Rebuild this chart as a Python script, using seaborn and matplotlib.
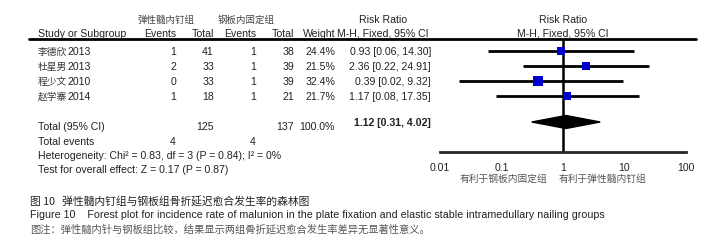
import numpy as np
import pandas as pd
import matplotlib
matplotlib.use('Agg')
import matplotlib.pyplot as plt
import seaborn as sns

# data
studies = ['李德欣2013', '杜星男2013', '程少文2010', '赵学寨2014']
events_esin = [1, 2, 0, 1]
total_esin = [41, 33, 33, 18]
events_plate = [1, 1, 1, 1]
total_plate = [38, 39, 39, 21]
weights = [24.4, 21.5, 32.4, 21.7]
rr = [0.93, 2.36, 0.39, 1.17]
ci_low = [0.06, 0.22, 0.02, 0.08]
ci_high = [14.30, 24.91, 9.32, 17.35]
pooled = [1.12, 0.31, 4.02]
tick_vals = [0.01, 0.1, 1, 10, 100]
tick_labels = ['0.01', '0.1', '1', '10', '100']

sns.set_style('white')
plt.rcParams['font.family'] = ['Liberation Sans', 'Noto Sans CJK SC', 'DejaVu Sans']
cjk = ['Noto Sans CJK SC', 'Liberation Sans']
fs = 7.6
txt = '#222222'

fig = plt.figure(figsize=(7.1, 2.51), dpi=100)
ax = fig.add_axes([0, 0, 1, 1])
ax.set_xlim(0, 710)
ax.set_ylim(251, 0)
ax.axis('off')

# headers
ax.text(166, 20, '弹性髓内钉组', ha='center', va='center', fontsize=6.8, family=cjk, color='#444444')
ax.text(246, 20, '钢板内固定组', ha='center', va='center', fontsize=6.8, family=cjk, color='#444444')
ax.text(383, 20, 'Risk Ratio', ha='center', va='center', fontsize=fs, color=txt)
ax.text(563, 20, 'Risk Ratio', ha='center', va='center', fontsize=fs, color=txt)
hy = 34
ax.text(38, hy, 'Study or Subgroup', ha='left', va='center', fontsize=fs, color=txt)
for x, s in [(176, 'Events'), (214, 'Total'), (256, 'Events'), (294, 'Total'), (335, 'Weight')]:
    ax.text(x, hy, s, ha='right', va='center', fontsize=fs, color=txt)
ax.text(383, hy, 'M-H, Fixed, 95% CI', ha='center', va='center', fontsize=fs, color=txt)
ax.text(563, hy, 'M-H, Fixed, 95% CI', ha='center', va='center', fontsize=fs, color=txt)
ax.plot([29, 696], [40, 40], color='black', lw=2)

row_y = [52 + 15 * i for i in range(len(studies))]
for i, y in enumerate(row_y):
    ax.text(38, y, studies[i][:-4], ha='left', va='center', fontsize=7, family=cjk, color='#3a3a3a')
    ax.text(38 + 29, y, studies[i][-4:], ha='left', va='center', fontsize=fs, color=txt)
    ax.text(176, y, str(events_esin[i]), ha='right', va='center', fontsize=fs, color=txt)
    ax.text(214, y, str(total_esin[i]), ha='right', va='center', fontsize=fs, color=txt)
    ax.text(256, y, str(events_plate[i]), ha='right', va='center', fontsize=fs, color=txt)
    ax.text(294, y, str(total_plate[i]), ha='right', va='center', fontsize=fs, color=txt)
    ax.text(335, y, f'{weights[i]:.1f}%', ha='right', va='center', fontsize=fs, color=txt)
    ax.text(431, y, f'{rr[i]:.2f} [{ci_low[i]:.2f}, {ci_high[i]:.2f}]', ha='right', va='center', fontsize=fs, color=txt)

ax.text(38, 127, 'Total (95% CI)', ha='left', va='center', fontsize=fs, color=txt)
ax.text(214, 127, str(sum(total_esin)), ha='right', va='center', fontsize=fs, color=txt)
ax.text(294, 127, str(sum(total_plate)), ha='right', va='center', fontsize=fs, color=txt)
ax.text(335, 127, '100.0%', ha='right', va='center', fontsize=fs, color=txt)
ax.text(431, 123, f'{pooled[0]:.2f} [{pooled[1]:.2f}, {pooled[2]:.2f}]', ha='right', va='center',
        fontsize=fs, fontweight='bold', color=txt)
ax.text(38, 142, 'Total events', ha='left', va='center', fontsize=fs, color=txt)
ax.text(176, 142, str(sum(events_esin)), ha='right', va='center', fontsize=fs, color=txt)
ax.text(256, 142, str(sum(events_plate)), ha='right', va='center', fontsize=fs, color=txt)
ax.text(38, 156, 'Heterogeneity: Chi² = 0.83, df = 3 (P = 0.84); I² = 0%', ha='left', va='center', fontsize=fs, color=txt)
ax.text(38, 170, 'Test for overall effect: Z = 0.17 (P = 0.87)', ha='left', va='center', fontsize=fs, color=txt)

# captions
ax.text(30, 201, '图 10   弹性髓内钉组与钢板组骨折延迟愈合发生率的森林图', ha='left', va='center',
        fontsize=7.75, family=cjk, color='#222222', fontweight='medium')
ax.text(30, 215, 'Figure 10    Forest plot for incidence rate of malunion in the plate fixation and elastic stable intramedullary nailing groups',
        ha='left', va='center', fontsize=7.65, color='#222222')
ax.text(30, 229, '图注：弹性髓内针与钢板组比较，结果显示两组骨折延迟愈合发生率差异无显著性意义。', ha='left', va='center',
        fontsize=7.4, family=cjk, color='#555555')

# forest panel
fx = fig.add_axes([440 / 710, 1 - 153 / 251, (686 - 440) / 710, (153 - 40) / 251])
fx.set_xscale('log')
fx.set_xlim(0.01, 100)
fx.set_ylim(153, 40)
fx.patch.set_alpha(0)
for sp in ['top', 'left', 'right']:
    fx.spines[sp].set_visible(False)
fx.spines['bottom'].set_linewidth(2)
fx.set_yticks([])
fx.set_xticks(tick_vals)
fx.set_xticklabels(tick_labels, fontsize=fs, color=txt)
fx.xaxis.set_minor_locator(matplotlib.ticker.NullLocator())
fx.tick_params(axis='x', direction='inout', length=9, width=2, pad=3, color='black')

fx.axvline(1, color='black', lw=1.8, zorder=1)
fx.hlines(row_y, ci_low, ci_high, color='black', lw=2, zorder=2)
df = pd.DataFrame({'rr': rr, 'y': row_y, 'w': weights})
sns.scatterplot(data=df, x='rr', y='y', size='w', sizes=(30, 48), marker='s', color='#0000cc',
                edgecolor='none', legend=False, ax=fx, zorder=3)
fx.set_xlabel('')
fx.set_ylabel('')
dy = 123
fx.fill([pooled[1], pooled[0], pooled[2], pooled[0]], [dy, dy - 6.5, dy, dy + 6.5], color='black', zorder=3)

ax.text(503, 179, '有利于钢板内固定组', ha='center', va='center', fontsize=7, family=cjk, color='#555555')
ax.text(602, 179, '有利于弹性髓内钉组', ha='center', va='center', fontsize=7, family=cjk, color='#555555')

fig.savefig('out.png', dpi=100)
